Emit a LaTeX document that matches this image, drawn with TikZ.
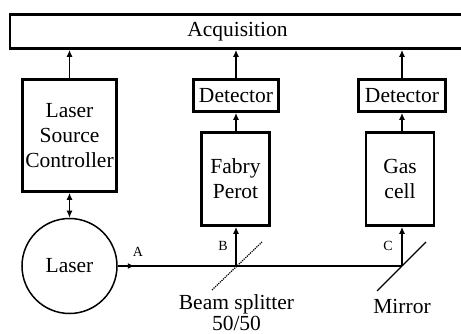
\documentclass[tikz,border=0pt]{standalone}
\usepackage{fontspec}
\setmainfont{Liberation Serif}
\usepackage{tikz}
\usetikzlibrary{arrows.meta,positioning,calc}

\begin{document}
\begin{tikzpicture}[
  x=1pt, y=-1pt,
  font=\fontsize{21.5}{25}\selectfont,
  >={Latex[length=7pt,width=6pt]},
  box/.style={draw, line width=2.6pt, align=center, inner sep=0pt},
  sig/.style={->, line width=1.4pt},
  beam/.style={line width=1.6pt},
  tag/.style={font=\fontsize{14}{16}\selectfont, inner sep=0pt},
]
  \clip (0,0) rectangle (461,334);

  % ---------------- boxes ----------------
  \node[box, minimum width=455pt, minimum height=34pt] (acq) at (237.5,31.5) {Acquisition};
  \node[box, minimum width=94pt, minimum height=112pt] (ctrl) at (69.5,135.5)
    {Laser\\ Source\\ Controller};
  \node[box, minimum width=85pt, minimum height=32pt] (det1) at (236,95.5) {Detector};
  \node[box, minimum width=87pt, minimum height=32pt] (det2) at (402,95.5) {Detector};
  \node[box, minimum width=68pt, minimum height=93pt] (fp) at (235.5,179) {Fabry\\ Perot};
  \node[box, minimum width=68pt, minimum height=93pt] (gas) at (400,179) {Gas\\ cell};
  \node[draw, circle, line width=1.5pt, minimum size=95pt, inner sep=0pt] (laser) at (69.5,266) {Laser};

  % ---------------- optical path ----------------
  \coordinate (bs) at (236,266);
  \coordinate (mir) at (402,266);
  \draw[beam] (laser.east) -- (mir);
  \draw[sig, line width=1.6pt] (laser.east) -- ++(17,0);
  \draw[densely dotted, line width=1.2pt] ($(bs)+(-24,24)$) -- ($(bs)+(26,-24)$);
  \draw[line width=1.4pt] ($(mir)+(-25,25)$) -- ($(mir)+(24,-24)$);
  \node[tag] (ta) at (138,252) {A};
  \node[tag] (tb) at (223,246) {B};
  \node[tag] (tc) at (388,246) {C};
  \node[align=center, inner sep=0pt, anchor=north,
        font=\fontsize{21.5}{21}\selectfont] (bslbl) at (236.5,294) {Beam splitter\\ 50/50};
  \node[inner sep=0pt, anchor=base] (mirlbl) at (402,313) {Mirror};

  % ---------------- signals ----------------
  \draw[sig] (bs) -- (bs |- fp.south);
  \draw[sig] (mir) -- (mir |- gas.south);
  \draw[sig] (fp.north -| bs) -- (det1.south -| bs);
  \draw[sig] (gas.north -| mir) -- (det2.south -| mir);
  \draw[sig] (det1.north -| bs) -- (acq.south -| bs);
  \draw[sig] (det2.north -| mir) -- (acq.south -| mir);
  \draw[sig] (ctrl.north) -- (ctrl.north |- acq.south);
  \draw[sig, <->] (ctrl.south) -- (laser.north);
\end{tikzpicture}
\end{document}
